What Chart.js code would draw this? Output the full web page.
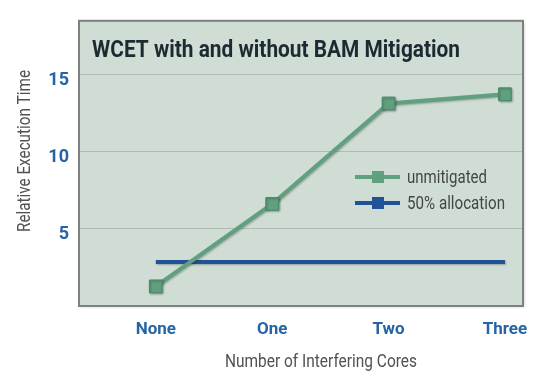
<!DOCTYPE html>
<html>
<head>
<meta charset="utf-8">
<script src="https://cdn.jsdelivr.net/npm/chart.js@4"></script>
<style>
  html, body { margin: 0; padding: 0; background: #ffffff; }
  #wrap { width: 552px; height: 378px; }
</style>
</head>
<body>
<div id="wrap"><canvas id="wcetChart" width="552" height="378"></canvas></div>
<script>
// data
const coreLabels = ['None', 'One', 'Two', 'Three'];
const coreIndex = [0, 1, 2, 3];
const unmitigated = [1.27, 6.6, 13.1, 13.7];
const allocation50 = [2.85, 2.85, 2.85, 2.85];
const yTicks = [5, 10, 15];

const CHART_TITLE = 'WCET with and without BAM Mitigation';
const X_TITLE = 'Number of Interfering Cores';
const Y_TITLE = 'Relative Execution Time';

const FONT = "Roboto, 'Liberation Sans', sans-serif";
const GREEN = 'rgb(96, 160, 126)';
const GREEN_EDGE = 'rgb(74, 135, 104)';
const BLUE = 'rgb(32, 82, 152)';
const PANEL = 'rgb(207, 221, 212)';
const TICK_BLUE = 'rgb(38, 100, 166)';

function toPoints(values) {
    return values.map((v, i) => ({ x: coreIndex[i], y: v }));
}

// the original uses a condensed face, so squeeze the text to its width
function fitText(ctx, text, x, y, width) {
    const w = ctx.measureText(text).width;
    ctx.save();
    ctx.translate(x, y);
    ctx.scale(width / w, 1);
    ctx.fillText(text, 0, 0);
    ctx.restore();
}

// panel, title, legend and axis titles
const panelPlugin = {
    id: 'panel',
    beforeDraw(chart) {
        const { ctx, chartArea: a } = chart;
        ctx.save();
        ctx.shadowColor = 'rgba(0,0,0,0.25)';
        ctx.shadowBlur = 3;
        ctx.shadowOffsetX = 1;
        ctx.shadowOffsetY = 1;
        ctx.fillStyle = PANEL;
        ctx.fillRect(a.left, a.top, a.right - a.left, a.bottom - a.top);
        ctx.restore();
    },
    beforeDatasetsDraw(chart) {
        const ctx = chart.ctx;
        ctx.save();
        ctx.shadowColor = 'rgba(0,0,0,0.28)';
        ctx.shadowBlur = 2;
        ctx.shadowOffsetX = 1;
        ctx.shadowOffsetY = 1;
    },
    afterDatasetsDraw(chart) {
        chart.ctx.restore();
    },
    afterDraw(chart) {
        const { ctx, chartArea: a } = chart;
        ctx.save();
        // frame
        ctx.strokeStyle = 'rgb(125, 128, 126)';
        ctx.lineWidth = 2;
        ctx.strokeRect(a.left, a.top, a.right - a.left, a.bottom - a.top);

        // title inside the panel
        ctx.fillStyle = 'rgb(30, 42, 50)';
        ctx.font = 'bold 24px ' + FONT;
        ctx.textAlign = 'left';
        ctx.textBaseline = 'alphabetic';
        fitText(ctx, CHART_TITLE, a.left + 13, a.top + 36, 368);

        // legend
        const items = [
            { label: 'unmitigated', color: GREEN, width: 80 },
            { label: '50% allocation', color: BLUE, width: 98 }
        ];
        items.forEach((it, i) => {
            const y = 177 + i * 26;
            ctx.strokeStyle = it.color;
            ctx.lineWidth = 4;
            ctx.beginPath();
            ctx.moveTo(355, y);
            ctx.lineTo(400, y);
            ctx.stroke();
            ctx.fillStyle = it.color;
            ctx.fillRect(372, y - 6, 12, 12);
            ctx.fillStyle = 'rgb(68, 70, 70)';
            ctx.font = '18px ' + FONT;
            ctx.textAlign = 'left';
            ctx.textBaseline = 'middle';
            fitText(ctx, it.label, 407, y + 1, it.width);
        });

        // axis titles
        ctx.fillStyle = 'rgb(80, 82, 82)';
        ctx.font = '18px ' + FONT;
        ctx.textAlign = 'center';
        ctx.textBaseline = 'middle';
        fitText(ctx, X_TITLE, 321, 362, 192);
        ctx.translate(25, 151);
        ctx.rotate(-Math.PI / 2);
        fitText(ctx, Y_TITLE, 0, 0, 162);
        ctx.restore();
    }
};

function initializeChart() {
    const ctx = document.getElementById('wcetChart').getContext('2d');
    new Chart(ctx, {
        type: 'line',
        data: {
            datasets: [
                {
                    label: 'unmitigated', data: toPoints(unmitigated),
                    borderColor: GREEN, backgroundColor: GREEN, borderWidth: 4,
                    pointStyle: 'rect', pointRadius: 9, pointBackgroundColor: GREEN,
                    pointBorderColor: GREEN_EDGE, pointBorderWidth: 1, tension: 0, fill: false
                },
                {
                    label: '50% allocation', data: toPoints(allocation50),
                    borderColor: BLUE, backgroundColor: BLUE, borderWidth: 4,
                    pointRadius: 0, tension: 0, fill: false
                }
            ]
        },
        options: {
            responsive: false,
            animation: false,
            layout: { padding: { top: 16, right: 29, left: 0, bottom: 0 } },
            plugins: { legend: { display: false }, tooltip: { enabled: false }, title: { display: false } },
            scales: {
                x: {
                    type: 'linear', min: -0.66, max: 3.155,
                    afterBuildTicks: axis => { axis.ticks = coreIndex.map(v => ({ value: v })); },
                    afterFit: scale => { scale.height = 72; },
                    grid: { display: false, drawTicks: false },
                    border: { display: false },
                    ticks: {
                        padding: 14, color: TICK_BLUE,
                        font: { family: FONT, size: 17, weight: 'bold' },
                        callback: v => coreLabels[v]
                    }
                },
                y: {
                    min: 0, max: 18.45,
                    afterBuildTicks: axis => { axis.ticks = yTicks.map(v => ({ value: v })); },
                    afterFit: scale => { scale.width = 79; },
                    grid: { color: 'rgb(174, 190, 180)', lineWidth: 1, drawTicks: false },
                    border: { display: false },
                    ticks: {
                        padding: 10, labelOffset: 6, color: TICK_BLUE,
                        font: { family: FONT, size: 18, weight: 'bold' }
                    }
                }
            }
        },
        plugins: [panelPlugin]
    });
}

initializeChart();
</script>
</body>
</html>
